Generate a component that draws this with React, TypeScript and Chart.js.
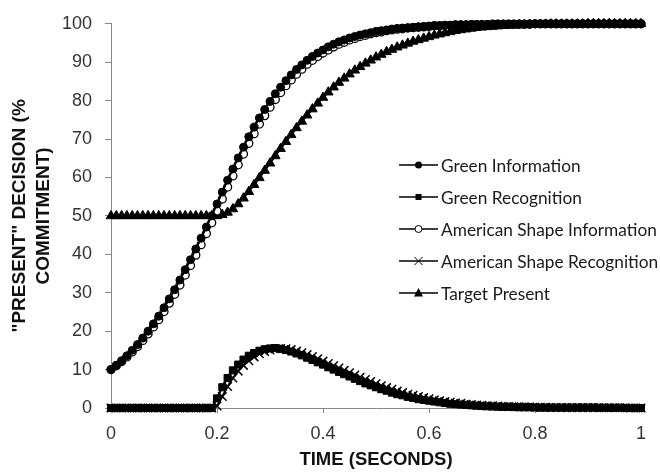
import React, { useEffect, useRef } from 'react';
import { Chart, registerables } from 'chart.js';

Chart.register(...registerables);

// time grid (seconds), sampled every 0.01 s
const TIME: number[] = Array.from({ length: 101 }, (_, i) => i / 100);

const GREEN_INFORMATION = [
  10.0, 11.1, 12.3, 13.6, 15.0, 16.5, 18.2, 20.0, 21.9, 23.9,
  26.1, 28.4, 30.8, 33.3, 36.0, 38.6, 41.4, 44.2, 47.1, 50.0,
  53.1, 56.2, 59.3, 62.2, 65.1, 67.9, 70.6, 73.1, 75.5, 77.7,
  79.8, 81.8, 83.5, 85.2, 86.7, 88.1, 89.3, 90.5, 91.5, 92.4,
  93.2, 94.0, 94.7, 95.3, 95.8, 96.3, 96.7, 97.1, 97.4, 97.7,
  98.0, 98.2, 98.4, 98.6, 98.8, 98.9, 99.0, 99.1, 99.2, 99.3,
  99.4, 99.5, 99.5, 99.6, 99.6, 99.7, 99.7, 99.7, 99.8, 99.8,
  99.8, 99.8, 99.9, 99.9, 99.9, 99.9, 99.9, 99.9, 99.9, 99.9,
  100, 100, 100, 100, 100, 100, 100, 100, 100, 100,
  100, 100, 100, 100, 100, 100, 100, 100, 100, 100,
  100,
];

const GREEN_RECOGNITION = [
  0, 0, 0, 0, 0, 0, 0, 0, 0, 0,
  0, 0, 0, 0, 0, 0, 0, 0, 0, 0,
  2.5, 5.4, 7.8, 9.8, 11.3, 12.6, 13.6, 14.3, 14.9, 15.3,
  15.5, 15.6, 15.4, 15.1, 14.7, 14.2, 13.7, 13.1, 12.5, 11.9,
  11.3, 10.6, 10.0, 9.4, 8.8, 8.2, 7.6, 7.0, 6.4, 5.9,
  5.4, 4.9, 4.5, 4.0, 3.6, 3.3, 2.9, 2.6, 2.3, 2.1,
  1.9, 1.7, 1.5, 1.3, 1.1, 1.0, 0.9, 0.8, 0.7, 0.6,
  0.5, 0.45, 0.4, 0.35, 0.3, 0.3, 0.25, 0.2, 0.2, 0.2,
  0.15, 0.1, 0.1, 0.1, 0.1, 0.1, 0.1, 0.1, 0.1, 0.1,
  0.1, 0.1, 0.05, 0.05, 0.05, 0.05, 0.05, 0, 0, 0,
  0,
];

const AMERICAN_SHAPE_INFORMATION = [
  10.0, 11.0, 12.1, 13.3, 14.6, 16.0, 17.6, 19.3, 21.1, 23.0,
  25.1, 27.3, 29.6, 32.0, 34.6, 37.1, 39.8, 42.5, 45.4, 48.2,
  51.3, 54.4, 57.5, 60.4, 63.3, 66.1, 68.9, 71.4, 73.9, 76.1,
  78.3, 80.3, 82.1, 83.9, 85.4, 86.9, 88.2, 89.5, 90.5, 91.5,
  92.4, 93.2, 94.0, 94.7, 95.2, 95.8, 96.2, 96.7, 97.0, 97.4,
  97.7, 97.9, 98.2, 98.4, 98.6, 98.7, 98.9, 99.0, 99.1, 99.2,
  99.3, 99.5, 99.5, 99.6, 99.6, 99.7, 99.7, 99.7, 99.8, 99.8,
  99.8, 99.8, 99.9, 99.9, 99.9, 99.9, 99.9, 99.9, 99.9, 99.9,
  100, 100, 100, 100, 100, 100, 100, 100, 100, 100,
  100, 100, 100, 100, 100, 100, 100, 100, 100, 100,
  100,
];

const AMERICAN_SHAPE_RECOGNITION = [
  0, 0, 0, 0, 0, 0, 0, 0, 0, 0,
  0, 0, 0, 0, 0, 0, 0, 0, 0, 0,
  0.5, 3.0, 5.6, 7.8, 9.6, 11.1, 12.3, 13.3, 14.1, 14.7,
  15.1, 15.4, 15.5, 15.4, 15.2, 14.8, 14.4, 13.9, 13.4, 12.8,
  12.2, 11.6, 11.0, 10.4, 9.8, 9.2, 8.6, 8.0, 7.4, 6.9,
  6.3, 5.8, 5.3, 4.9, 4.4, 4.0, 3.6, 3.3, 3.0, 2.7,
  2.4, 2.1, 1.9, 1.7, 1.5, 1.3, 1.2, 1.0, 0.9, 0.8,
  0.7, 0.6, 0.55, 0.5, 0.4, 0.4, 0.35, 0.3, 0.3, 0.25,
  0.2, 0.2, 0.2, 0.15, 0.15, 0.15, 0.1, 0.1, 0.1, 0.1,
  0.1, 0.1, 0.1, 0.05, 0.05, 0.05, 0.05, 0.05, 0, 0,
  0,
];

const TARGET_PRESENT = [
  50, 50, 50, 50, 50, 50, 50, 50, 50, 50,
  50, 50, 50, 50, 50, 50, 50, 50, 50, 50,
  50.0, 50.3, 50.9, 51.8, 53.1, 54.6, 56.3, 58.1, 59.9, 61.8,
  63.7, 65.6, 67.5, 69.3, 71.1, 72.9, 74.6, 76.2, 77.8, 79.3,
  80.8, 82.2, 83.5, 84.7, 85.8, 86.9, 87.9, 88.8, 89.7, 90.5,
  91.3, 92.0, 92.7, 93.3, 93.9, 94.4, 94.9, 95.4, 95.8, 96.2,
  96.6, 97.0, 97.3, 97.6, 97.9, 98.2, 98.4, 98.6, 98.8, 99.0,
  99.1, 99.2, 99.3, 99.4, 99.5, 99.6, 99.6, 99.7, 99.7, 99.8,
  99.8, 99.8, 99.8, 99.9, 99.9, 99.9, 99.9, 99.9, 99.9, 99.9,
  100, 100, 100, 100, 100, 100, 100, 100, 100, 100,
  100,
];

const SERIES_LABELS = [
  'Green Information',
  'Green Recognition',
  'American Shape Information',
  'American Shape Recognition',
  'Target Present',
];

const X_TITLE = 'TIME (SECONDS)';
const Y_TITLE = ['"PRESENT" DECISION (%', 'COMMITMENT)'];

type MarkerKind = 'dot' | 'square' | 'ring' | 'cross' | 'tri';
const MARKERS: { kind: MarkerKind; style: string; radius: number; bg: string; bw: number }[] = [
  { kind: 'dot', style: 'circle', radius: 4, bg: '#000', bw: 1 },
  { kind: 'square', style: 'rect', radius: 5, bg: '#000', bw: 1 },
  { kind: 'ring', style: 'circle', radius: 4, bg: '#fff', bw: 1.3 },
  { kind: 'cross', style: 'crossRot', radius: 6, bg: '#000', bw: 1.5 },
  { kind: 'tri', style: 'triangle', radius: 5.5, bg: '#000', bw: 1 },
];

function drawMarker(ctx: CanvasRenderingContext2D, kind: MarkerKind, x: number, y: number) {
  ctx.save();
  ctx.fillStyle = '#000';
  ctx.strokeStyle = '#000';
  ctx.lineWidth = 1;
  ctx.beginPath();
  if (kind === 'dot') {
    ctx.arc(x, y, 3.5, 0, Math.PI * 2);
    ctx.fill();
  } else if (kind === 'square') {
    ctx.fillRect(x - 3, y - 3, 6, 6);
  } else if (kind === 'ring') {
    ctx.arc(x, y, 3.5, 0, Math.PI * 2);
    ctx.fillStyle = '#fff';
    ctx.fill();
    ctx.stroke();
  } else if (kind === 'cross') {
    ctx.moveTo(x - 4, y - 4);
    ctx.lineTo(x + 4, y + 4);
    ctx.moveTo(x + 4, y - 4);
    ctx.lineTo(x - 4, y + 4);
    ctx.stroke();
  } else {
    ctx.moveTo(x, y - 5);
    ctx.lineTo(x + 4.5, y + 3.5);
    ctx.lineTo(x - 4.5, y + 3.5);
    ctx.closePath();
    ctx.fill();
  }
  ctx.restore();
}

const insideLegend = {
  id: 'insideLegend',
  afterDraw(chart: any) {
    const ctx: CanvasRenderingContext2D = chart.ctx;
    ctx.save();
    const lineX1 = 399;
    const lineX2 = 438;
    const textX = 441;
    const rowY0 = 165;
    const rowGap = 32;
    ctx.font = '16px Lato';
    const longest = ctx.measureText('American Shape Information').width;
    const size = (16 * 216) / longest;
    ctx.font = `${size.toFixed(2)}px Lato`;
    ctx.textBaseline = 'middle';
    ctx.textAlign = 'left';
    SERIES_LABELS.forEach((label, i) => {
      const y = rowY0 + i * rowGap;
      ctx.strokeStyle = '#000';
      ctx.lineWidth = 1.5;
      ctx.beginPath();
      ctx.moveTo(lineX1, y);
      ctx.lineTo(lineX2, y);
      ctx.stroke();
      drawMarker(ctx, MARKERS[i].kind, (lineX1 + lineX2) / 2, y);
      ctx.fillStyle = '#1a1a1a';
      ctx.fillText(label, textX, y + 1);
    });
    ctx.restore();
  },
};

export default function App() {
  const ref = useRef<HTMLCanvasElement>(null);

  useEffect(() => {
    document.body.style.margin = '0';
    const canvas = ref.current;
    if (!canvas) return;
    const values = [
      GREEN_INFORMATION,
      GREEN_RECOGNITION,
      AMERICAN_SHAPE_INFORMATION,
      AMERICAN_SHAPE_RECOGNITION,
      TARGET_PRESENT,
    ];
    const datasets = values.map((vals, i) => ({
      label: SERIES_LABELS[i],
      data: vals.map((v, j) => ({ x: TIME[j], y: v })),
      borderColor: '#000',
      borderWidth: 2,
      pointStyle: MARKERS[i].style as any,
      pointRadius: MARKERS[i].radius,
      pointBackgroundColor: MARKERS[i].bg,
      pointBorderColor: '#000',
      pointBorderWidth: MARKERS[i].bw,
      clip: false as any,
      tension: 0,
      fill: false,
    }));

    const tickFont = { family: "'Liberation Sans', Arial, sans-serif", size: 18 };
    const chart = new Chart(canvas, {
      type: 'line',
      data: { datasets },
      plugins: [insideLegend],
      options: {
        responsive: false,
        devicePixelRatio: 1,
        animation: false,
        layout: { padding: { left: 0, right: 19, top: 15, bottom: 0 } },
        plugins: {
          legend: { display: false },
          tooltip: { enabled: false },
        },
        scales: {
          x: {
            type: 'linear',
            min: 0,
            max: 1,
            ticks: {
              stepSize: 0.2,
              font: tickFont,
              color: '#333',
              padding: 10,
              maxRotation: 0,
              callback: (v: any) => String(Math.round(Number(v) * 10) / 10),
            },
            grid: {
              drawOnChartArea: false,
              drawTicks: true,
              tickLength: 5,
              color: '#888',
              tickColor: '#888',
            },
            border: { color: '#888', width: 1 },
            title: {
              display: true,
              text: X_TITLE,
              color: '#111',
              font: { family: "'Liberation Sans', Arial, sans-serif", size: 18.5, weight: 'bold' },
              padding: { top: 0, bottom: 1 },
            },
            afterFit: (s: any) => {
              s.height = 64;
            },
          },
          y: {
            type: 'linear',
            min: 0,
            max: 100,
            ticks: {
              stepSize: 10,
              font: tickFont,
              color: '#333',
              padding: 13,
            },
            grid: {
              drawOnChartArea: false,
              drawTicks: true,
              tickLength: 6,
              color: '#888',
              tickColor: '#888',
            },
            border: { color: '#888', width: 1 },
            title: {
              display: true,
              text: Y_TITLE,
              color: '#111',
              font: { family: "'Liberation Sans', Arial, sans-serif", size: 19, weight: 'bold', lineHeight: '24px' },
              padding: { top: 8, bottom: 0 },
            },
            afterFit: (s: any) => {
              s.width = 111;
            },
          },
        },
      },
    });
    return () => chart.destroy();
  }, []);

  return (
    <canvas
      ref={ref}
      width={660}
      height={472}
      style={{ display: 'block', width: 660, height: 472 }}
    />
  );
}
